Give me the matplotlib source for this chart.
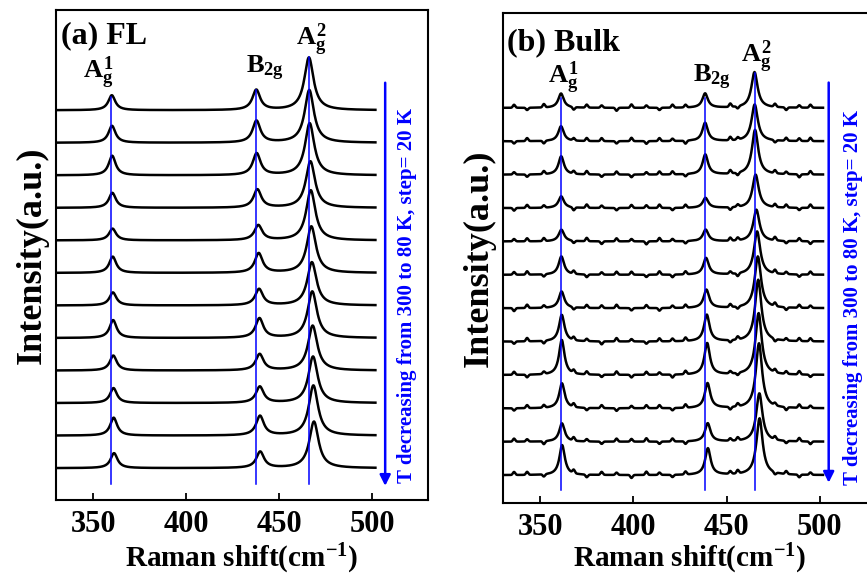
import matplotlib
matplotlib.use("Agg")
import matplotlib.pyplot as plt
import numpy as np

plt.rcParams['font.family'] = 'Liberation Serif'
plt.rcParams['font.weight'] = 'bold'
plt.rcParams['axes.labelweight'] = 'bold'
plt.rcParams['mathtext.fontset'] = 'custom'
plt.rcParams['mathtext.rm'] = 'Liberation Serif:bold'
plt.rcParams['mathtext.it'] = 'Liberation Serif:bold'
plt.rcParams['mathtext.bf'] = 'Liberation Serif:bold'

# temperatures, top spectrum first (300 K -> 80 K)
temps = [300, 280, 260, 240, 220, 200, 180, 160, 140, 120, 100, 80]

# (a) FL : peak centres (cm-1) and heights (offset units)
a_pos1 = [360.0, 360.1, 360.2, 360.3, 360.4, 360.5, 360.6, 360.7, 360.8, 360.9, 361.0, 361.2]
a_h1 = [0.46, 0.52, 0.60, 0.46, 0.36, 0.50, 0.40, 0.55, 0.46, 0.46, 0.55, 0.46]
a_pos2 = [437.7, 437.8, 437.9, 438.3, 438.8, 439.0, 439.2, 439.4, 439.5, 439.6, 439.7, 439.8]
a_h2 = [0.62, 0.67, 0.67, 0.56, 0.46, 0.60, 0.50, 0.60, 0.50, 0.50, 0.60, 0.50]
a_pos3 = [466.0, 466.2, 466.4, 466.8, 467.0, 467.3, 467.6, 467.8, 468.0, 468.2, 468.4, 468.7]
a_h3 = [1.62, 1.62, 1.60, 1.43, 1.54, 1.43, 1.33, 1.43, 1.38, 1.43, 1.54, 1.43]
a_fwhm = [4.5, 5.0, 6.0]

# (b) Bulk
b_pos1 = [361.2, 361.2, 361.3, 361.3, 361.4, 361.4, 361.5, 361.6, 361.6, 361.7, 361.7, 361.8]
b_h1 = [0.43, 0.45, 0.55, 0.35, 0.35, 0.55, 0.50, 0.80, 1.05, 0.75, 0.55, 0.90]
b_pos2 = [438.5, 438.5, 438.6, 438.7, 438.8, 439.0, 439.2, 439.4, 439.6, 439.8, 439.9, 440.0]
b_h2 = [0.43, 0.55, 0.60, 0.30, 0.35, 0.50, 0.55, 0.80, 0.95, 0.75, 0.55, 0.80]
b_pos3 = [465.0, 465.1, 465.3, 465.6, 466.0, 466.4, 466.8, 467.0, 467.2, 467.4, 467.6, 467.7]
b_h3 = [1.07, 1.10, 1.34, 1.00, 0.95, 1.30, 1.55, 1.85, 1.85, 1.95, 1.45, 1.70]
b_fwhm = [3.5, 3.5, 4.0]

# small noise bumps seen on the bulk baselines (cm-1, offset units)
b_blip_x = [336, 343, 352, 368, 375, 383, 391, 399, 407, 414, 421, 428,
            452, 456, 476, 482, 489, 495]
b_blip_h = [0.09, -0.07, 0.10, -0.08, 0.09, 0.07, -0.09, 0.10, 0.07, -0.07,
            0.09, 0.08, 0.10, -0.07, 0.09, -0.08, 0.07, 0.09]

# mode positions marked by the blue lines
a_modes = [359.7, 437.6, 466.0]
b_modes = [361.2, 438.5, 465.0]


def lor(x, c, h, w):
    g = w / 2.0
    return h * g * g / ((x - c) ** 2 + g * g)


def draw_panel(ax, pos1, h1, pos2, h2, pos3, h3, fwhm, ylim, blips=None, lpad=0):
    x = np.arange(330, 502, 0.25)
    n = len(temps)
    for i in range(n):
        off = n - 1 - i
        y = (lor(x, pos1[i], h1[i], fwhm[0]) + lor(x, pos2[i], h2[i], fwhm[1])
             + lor(x, pos3[i], h3[i], fwhm[2]))
        if blips is not None:
            bx, bh = blips
            for xb, hb in zip(bx, np.roll(bh, 5 * i)):
                y = y + hb * np.exp(-0.5 * ((x - xb) / 0.6) ** 2)
        ax.plot(x, y + off, color='black', lw=1.8)
    ax.set_xlim(330, 530)
    ax.set_ylim(*ylim)
    ax.set_xticks([350, 400, 450, 500])
    ax.set_yticks([])
    ax.tick_params(axis='x', direction='in', length=5, width=1.3, labelsize=22, pad=7)
    for s in ax.spines.values():
        s.set_linewidth(1.5)
    ax.set_xlabel(r'Raman shift(cm$^{\mathregular{-1}}$)', fontsize=21, labelpad=lpad)
    ax.set_ylabel('Intensity(a.u.)', fontsize=26, labelpad=5)


fig = plt.figure(figsize=(8.67, 5.79), dpi=100)
ax1 = fig.add_axes([0.0646, 0.1364, 0.429, 0.8463])
ax2 = fig.add_axes([0.580, 0.1310, 0.430, 0.8465])

draw_panel(ax1, a_pos1, a_h1, a_pos2, a_h2, a_pos3, a_h3, a_fwhm, (-0.98, 14.08), lpad=2)
draw_panel(ax2, b_pos1, b_h1, b_pos2, b_h2, b_pos3, b_h3, b_fwhm, (-0.84, 13.84),
           blips=(b_blip_x, b_blip_h), lpad=0)

# blue guide lines
for xm, top in zip(a_modes, [11.40, 11.62, 12.63]):
    ax1.plot([xm, xm], [-0.5, top], color='blue', lw=1.1)
for xm, top in zip(b_modes, [11.30, 11.30, 12.05]):
    ax2.plot([xm, xm], [-0.45, top], color='blue', lw=1.1)

# labels
ax1.text(332.7, 13.06, '(a) FL', fontsize=23)
ax1.text(344.5, 12.0, r'$A_g^1$', fontsize=19)
ax1.text(432.0, 12.14, r'$B_{2g}$', fontsize=19)
ax1.text(459.0, 13.0, r'$A_g^2$', fontsize=19)

ax2.text(332.3, 12.74, '(b) Bulk', fontsize=23)
ax2.text(354.2, 11.75, r'$A_g^1$', fontsize=19)
ax2.text(432.2, 11.75, r'$B_{2g}$', fontsize=19)
ax2.text(457.5, 12.38, r'$A_g^2$', fontsize=19)

note = 'T decreasing from 300 to 80 K, step= 20 K'
for ax, xa, xt, ytop, ybot, ytxt in [(ax1, 507, 519, 11.93, -0.63, -0.45),
                                      (ax2, 504.8, 517.7, 11.84, -0.31, -0.3)]:
    ax.annotate('', xy=(xa, ybot), xytext=(xa, ytop),
                arrowprops=dict(arrowstyle='-|>', color='blue', lw=1.8, mutation_scale=16))
    ax.text(xt, ytxt, note, color='blue', fontsize=15, rotation=90,
            ha='center', va='bottom')

fig.savefig('out.png', dpi=100)
